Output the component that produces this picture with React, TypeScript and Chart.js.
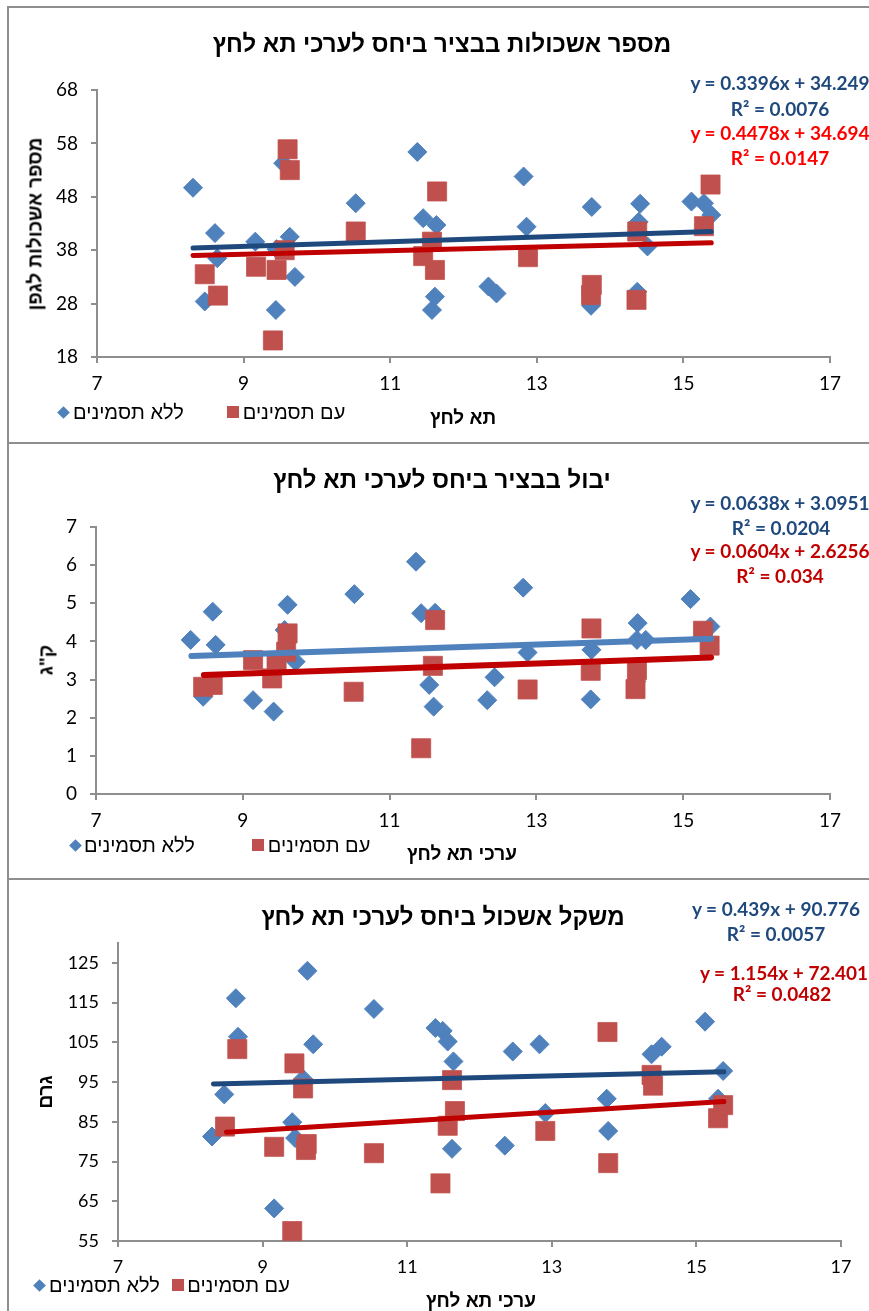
import React, { useEffect, useRef } from "react";
import { Chart, registerables } from "chart.js";

Chart.register(...registerables);

// ---------- DATA ----------
const xTicks = [7, 9, 11, 13, 15, 17];

// Chart 1: number of clusters per vine
const clustersNoX = [8.31, 8.47, 8.61, 8.64, 9.16, 9.44, 9.45, 9.54, 9.63, 9.7, 10.53, 11.37, 11.45, 11.57, 11.61, 11.63, 12.34, 12.45, 12.82, 12.86, 13.74, 13.75, 14.37, 14.39, 14.41, 14.51, 15.11, 15.28, 15.38];
const clustersNoY = [49.7, 28.4, 41.2, 36.5, 39.6, 26.8, 38.2, 54.3, 40.5, 33.0, 46.8, 56.4, 44.0, 26.8, 29.3, 42.7, 31.2, 29.9, 51.8, 42.4, 27.6, 46.1, 30.2, 43.3, 46.7, 38.7, 47.1, 46.8, 44.6];
const clustersSymX = [8.47, 8.65, 9.17, 9.4, 9.45, 9.56, 9.6, 9.63, 10.53, 11.45, 11.57, 11.61, 11.64, 12.88, 13.74, 13.75, 14.36, 14.37, 15.28, 15.37];
const clustersSymY = [33.5, 29.5, 34.9, 21.1, 34.3, 38.0, 56.9, 53.0, 41.5, 36.9, 39.6, 34.3, 49.0, 36.7, 29.6, 31.5, 28.7, 41.5, 42.5, 50.3];
const clustersTrendNoX = [8.31, 15.38];
const clustersTrendNoY = [38.4, 41.5];
const clustersTrendSymX = [8.31, 15.38];
const clustersTrendSymY = [37.0, 39.4];
const clustersYTicks = [18, 28, 38, 48, 58, 68];

// Chart 2: yield (kg)
const yieldNoX = [8.29, 8.46, 8.59, 8.63, 9.14, 9.42, 9.57, 9.61, 9.72, 10.52, 11.36, 11.43, 11.54, 11.6, 11.62, 12.33, 12.43, 12.82, 12.88, 13.74, 13.75, 14.36, 14.37, 14.38, 14.49, 15.1, 15.37];
const yieldNoY = [4.04, 2.55, 4.78, 3.91, 2.46, 2.16, 4.3, 4.96, 3.47, 5.24, 6.09, 4.74, 2.86, 2.29, 4.75, 2.46, 3.06, 5.41, 3.71, 2.48, 3.78, 2.95, 4.04, 4.48, 4.04, 5.11, 4.39];
const yieldSymX = [8.46, 8.59, 9.14, 9.4, 9.46, 9.59, 9.61, 10.51, 11.43, 11.59, 11.62, 12.88, 13.74, 13.75, 14.35, 14.37, 15.27, 15.36];
const yieldSymY = [2.81, 2.86, 3.51, 3.03, 3.49, 3.73, 4.21, 2.68, 1.2, 3.36, 4.56, 2.74, 3.23, 4.34, 2.75, 3.25, 4.28, 3.89];
const yieldTrendNoX = [8.3, 15.38];
const yieldTrendNoY = [3.62, 4.07];
const yieldTrendSymX = [8.47, 15.38];
const yieldTrendSymY = [3.12, 3.58];
const yieldYTicks = [0, 1, 2, 3, 4, 5, 6, 7];

// Chart 3: cluster weight (g)
const weightNoX = [8.3, 8.47, 8.63, 8.66, 9.16, 9.41, 9.45, 9.56, 9.62, 9.7, 10.54, 11.39, 11.49, 11.56, 11.62, 11.64, 12.35, 12.46, 12.83, 12.91, 13.76, 13.78, 14.38, 14.4, 14.52, 15.12, 15.3, 15.37];
const weightNoY = [81.3, 91.9, 116.1, 106.4, 63.2, 84.9, 80.9, 95.8, 123.0, 104.5, 113.4, 108.6, 107.9, 105.2, 78.2, 100.2, 79.0, 102.7, 104.5, 87.2, 90.8, 82.7, 102.0, 95.0, 103.9, 110.2, 90.8, 97.8];
const weightSymX = [8.48, 8.65, 9.16, 9.41, 9.44, 9.56, 9.6, 9.61, 10.54, 11.46, 11.56, 11.62, 11.66, 12.91, 13.77, 13.78, 14.38, 14.4, 15.3, 15.37];
const weightSymY = [83.8, 103.3, 78.7, 57.5, 99.7, 93.4, 77.9, 79.4, 77.1, 69.5, 84.0, 95.5, 87.7, 82.7, 107.6, 74.6, 96.8, 94.1, 85.9, 89.2];
const weightTrendNoX = [8.32, 15.38];
const weightTrendNoY = [94.5, 97.6];
const weightTrendSymX = [8.5, 15.38];
const weightTrendSymY = [82.4, 90.1];
const weightYTicks = [55, 65, 75, 85, 95, 105, 115, 125];

const seriesNames = ["ללא תסמינים", "עם תסמינים"];

// ---------- STYLE ----------
const BLUE = "#4F81BD";
const RED = "#C0504D";
const NAVY = "#1F497D";
const DARKRED = "#C00000";
const AXIS = "#8E8E8E";
const HEB = "'Liberation Sans', Arial, sans-serif";
const NUM = "Lato, 'Liberation Sans', sans-serif";
const PAGE_W = 869;

const pts = (xs: number[], ys: number[]) => xs.map((x, i) => ({ x, y: ys[i] }));

type Txt = {
  text: string;
  x: number;
  y: number;
  size: number;
  bold?: boolean;
  color?: string;
  font?: string;
  rotate?: boolean;
  rtl?: boolean;
};

type PanelCfg = {
  top: number;
  height: number;
  area: { left: number; top: number; right: number; bottom: number };
  yMin: number;
  yMax: number;
  yTicks: number[];
  noPts: { x: number; y: number }[];
  symPts: { x: number; y: number }[];
  trendNo: { x: number; y: number }[];
  trendSym: { x: number; y: number }[];
  trendNoColor: string;
  trendWidth: number;
  tickSize: number;
  texts: Txt[];
  legend: { diamond: [number, number]; square: [number, number]; t1: [number, number]; t2: [number, number]; size: number };
};

const panels: PanelCfg[] = [
  {
    top: 0,
    height: 443,
    area: { left: 97, top: 90, right: 830, bottom: 357 },
    yMin: 18,
    yMax: 68,
    yTicks: clustersYTicks,
    noPts: pts(clustersNoX, clustersNoY),
    symPts: pts(clustersSymX, clustersSymY),
    trendNo: pts(clustersTrendNoX, clustersTrendNoY),
    trendSym: pts(clustersTrendSymX, clustersTrendSymY),
    trendNoColor: NAVY,
    trendWidth: 5,
    tickSize: 19,
    texts: [
      { text: "מספר אשכולות בבציר ביחס לערכי תא לחץ", x: 442, y: 44, size: 24, bold: true, font: HEB, rtl: true },
      { text: "מספר אשכולות לגפן", x: 35, y: 224, size: 19, bold: true, font: HEB, rtl: true, rotate: true },
      { text: "תא לחץ", x: 463, y: 417, size: 19, bold: true, font: HEB, rtl: true },
      { text: "y = 0.3396x + 34.249", x: 780, y: 82, size: 19, bold: true, color: NAVY, font: NUM },
      { text: "R² = 0.0076", x: 780, y: 108, size: 19, bold: true, color: NAVY, font: NUM },
      { text: "y = 0.4478x + 34.694", x: 780, y: 132, size: 19, bold: true, color: "#FF0000", font: NUM },
      { text: "R² = 0.0147", x: 780, y: 157, size: 19, bold: true, color: "#FF0000", font: NUM },
    ],
    legend: { diamond: [63.5, 412], square: [233, 412], t1: [128.5, 412], t2: [294, 412], size: 20 },
  },
  {
    top: 443,
    height: 436,
    area: { left: 96, top: 527, right: 830, bottom: 794 },
    yMin: 0,
    yMax: 7,
    yTicks: yieldYTicks,
    noPts: pts(yieldNoX, yieldNoY),
    symPts: pts(yieldSymX, yieldSymY),
    trendNo: pts(yieldTrendNoX, yieldTrendNoY),
    trendSym: pts(yieldTrendSymX, yieldTrendSymY),
    trendNoColor: BLUE,
    trendWidth: 6,
    tickSize: 19,
    texts: [
      { text: "יבול בבציר ביחס לערכי תא לחץ", x: 442, y: 480, size: 24, bold: true, font: HEB, rtl: true },
      { text: 'ק"ג', x: 46, y: 660, size: 19, bold: true, font: HEB, rtl: true, rotate: true },
      { text: "ערכי תא לחץ", x: 462, y: 853, size: 19, bold: true, font: HEB, rtl: true },
      { text: "y = 0.0638x + 3.0951", x: 780, y: 502, size: 19, bold: true, color: NAVY, font: NUM },
      { text: "R² = 0.0204", x: 781, y: 527, size: 19, bold: true, color: NAVY, font: NUM },
      { text: "y = 0.0604x + 2.6256", x: 780, y: 550, size: 19, bold: true, color: DARKRED, font: NUM },
      { text: "R² = 0.034", x: 780, y: 575, size: 19, bold: true, color: DARKRED, font: NUM },
    ],
    legend: { diamond: [75.5, 845], square: [257.5, 845], t1: [139.5, 845], t2: [319, 845], size: 20 },
  },
  {
    top: 879,
    height: 432,
    area: { left: 118, top: 943, right: 841, bottom: 1241 },
    yMin: 55,
    yMax: 130,
    yTicks: weightYTicks,
    noPts: pts(weightNoX, weightNoY),
    symPts: pts(weightSymX, weightSymY),
    trendNo: pts(weightTrendNoX, weightTrendNoY),
    trendSym: pts(weightTrendSymX, weightTrendSymY),
    trendNoColor: NAVY,
    trendWidth: 5,
    tickSize: 18,
    texts: [
      { text: "משקל אשכול ביחס לערכי תא לחץ", x: 443, y: 917, size: 24, bold: true, font: HEB, rtl: true },
      { text: "גרם", x: 45, y: 1092, size: 19, bold: true, font: HEB, rtl: true, rotate: true },
      { text: "ערכי תא לחץ", x: 481, y: 1300, size: 19, bold: true, font: HEB, rtl: true },
      { text: "y = 0.439x + 90.776", x: 776, y: 908, size: 19, bold: true, color: NAVY, font: NUM },
      { text: "R² = 0.0057", x: 776, y: 933, size: 19, bold: true, color: NAVY, font: NUM },
      { text: "y = 1.154x + 72.401", x: 784, y: 972, size: 19, bold: true, color: DARKRED, font: NUM },
      { text: "R² = 0.0482", x: 782, y: 993, size: 19, bold: true, color: DARKRED, font: NUM },
    ],
    legend: { diamond: [39.5, 1285], square: [178, 1285], t1: [104.5, 1285], t2: [238.5, 1285], size: 20 },
  },
];

function ScatterPanel({ cfg }: { cfg: PanelCfg }) {
  const ref = useRef<HTMLCanvasElement | null>(null);

  useEffect(() => {
    if (!ref.current) return;
    const a = cfg.area;
    const padTop = a.top - cfg.top;
    const padRight = PAGE_W - a.right;
    const xHeight = cfg.top + cfg.height - a.bottom;
    const chart = new Chart(ref.current, {
      type: "scatter",
      data: {
        datasets: [
          {
            type: "line",
            label: "trendNo",
            data: cfg.trendNo,
            borderColor: cfg.trendNoColor,
            borderWidth: cfg.trendWidth,
            borderCapStyle: "round",
            pointRadius: 0,
            fill: false,
            order: 1,
          } as any,
          {
            type: "line",
            label: "trendSym",
            data: cfg.trendSym,
            borderColor: DARKRED,
            borderWidth: cfg.trendWidth,
            borderCapStyle: "round",
            pointRadius: 0,
            fill: false,
            order: 0,
          } as any,
          {
            label: seriesNames[1],
            data: cfg.symPts,
            pointStyle: "rect",
            pointRadius: 13.5,
            backgroundColor: RED,
            borderColor: "rgba(192,80,77,0.75)",
            borderWidth: 1,
            clip: false,
            order: 2,
          } as any,
          {
            label: seriesNames[0],
            data: cfg.noPts,
            pointStyle: "rectRot",
            pointRadius: 9.5,
            backgroundColor: BLUE,
            borderColor: BLUE,
            borderWidth: 1,
            clip: false,
            order: 3,
          } as any,
        ],
      },
      options: {
        animation: false,
        responsive: false,
        devicePixelRatio: 1,
        events: [],
        layout: { padding: { left: 0, top: padTop, right: padRight, bottom: 0 } },
        plugins: { legend: { display: false }, title: { display: false }, tooltip: { enabled: false } },
        scales: {
          x: {
            type: "linear",
            min: 7,
            max: 17,
            afterBuildTicks: (s: any) => {
              s.ticks = xTicks.map((v) => ({ value: v }));
            },
            afterFit: (s: any) => {
              s.height = xHeight;
            },
            grid: { display: true, drawOnChartArea: false, drawTicks: true, tickLength: 6, color: AXIS, lineWidth: 2 },
            border: { display: true, color: AXIS, width: 2 },
            ticks: { color: "#000", font: { family: NUM, size: cfg.tickSize }, padding: 9, maxRotation: 0 },
          },
          y: {
            type: "linear",
            min: cfg.yMin,
            max: cfg.yMax,
            afterBuildTicks: (s: any) => {
              s.ticks = cfg.yTicks.map((v) => ({ value: v }));
            },
            afterFit: (s: any) => {
              s.width = a.left;
            },
            grid: { display: true, drawOnChartArea: false, drawTicks: true, tickLength: 6, color: AXIS, lineWidth: 2 },
            border: { display: true, color: AXIS, width: 2 },
            ticks: { color: "#000", font: { family: NUM, size: cfg.tickSize }, padding: 13 },
          },
        },
      } as any,
    });
    return () => chart.destroy();
  }, [cfg]);

  return (
    <>
      <canvas
        ref={ref}
        width={PAGE_W}
        height={cfg.height}
        style={{ position: "absolute", left: 0, top: cfg.top, width: PAGE_W, height: cfg.height }}
      />
      {cfg.texts.map((t, i) => (
        <div
          key={i}
          dir={t.rtl ? "rtl" : "ltr"}
          style={{
            position: "absolute",
            left: t.x,
            top: t.y,
            transform: `translate(-50%, -50%)${t.rotate ? " rotate(-90deg)" : ""}`,
            whiteSpace: "nowrap",
            fontFamily: t.font || HEB,
            fontSize: t.size,
            fontWeight: t.bold ? 700 : 400,
            color: t.color || "#000",
            lineHeight: 1,
          }}
        >
          {t.text}
        </div>
      ))}
      <div
        style={{
          position: "absolute",
          left: cfg.legend.diamond[0] - 4.5,
          top: cfg.legend.diamond[1] - 4.5,
          width: 9,
          height: 9,
          background: BLUE,
          transform: "rotate(45deg)",
        }}
      />
      <div
        style={{
          position: "absolute",
          left: cfg.legend.square[0] - 6,
          top: cfg.legend.square[1] - 6,
          width: 12,
          height: 12,
          background: RED,
        }}
      />
      <div
        dir="rtl"
        style={{
          position: "absolute",
          left: cfg.legend.t1[0],
          top: cfg.legend.t1[1],
          transform: "translate(-50%, -50%)",
          whiteSpace: "nowrap",
          fontFamily: HEB,
          fontSize: cfg.legend.size,
          lineHeight: 1,
          color: "#000",
        }}
      >
        {seriesNames[0]}
      </div>
      <div
        dir="rtl"
        style={{
          position: "absolute",
          left: cfg.legend.t2[0],
          top: cfg.legend.t2[1],
          transform: "translate(-50%, -50%)",
          whiteSpace: "nowrap",
          fontFamily: HEB,
          fontSize: cfg.legend.size,
          lineHeight: 1,
          color: "#000",
        }}
      >
        {seriesNames[1]}
      </div>
    </>
  );
}

export default function App() {
  const borderStyle = `2px solid ${AXIS}`;
  return (
    <div
      style={{
        position: "fixed",
        left: 0,
        top: 0,
        width: PAGE_W,
        height: 1311,
        overflow: "hidden",
        background: "#fff",
      }}
    >
      <div style={{ position: "absolute", left: 7, top: 6, width: 1000, height: 436, borderLeft: borderStyle, borderTop: borderStyle }} />
      <div style={{ position: "absolute", left: 7, top: 442, width: 1000, height: 436, borderLeft: borderStyle, borderTop: borderStyle }} />
      <div style={{ position: "absolute", left: 7, top: 878, width: 1000, height: 500, borderLeft: borderStyle, borderTop: borderStyle }} />
      {panels.map((p, i) => (
        <ScatterPanel key={i} cfg={p} />
      ))}
    </div>
  );
}
